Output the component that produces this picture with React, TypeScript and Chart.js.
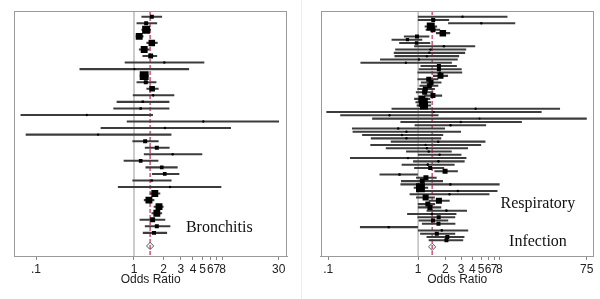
import React, { useEffect, useRef } from "react";
import { Chart, registerables } from "chart.js";
Chart.register(...registerables);

// ---------- Bronchitis panel (odds ratio, 95% CI, weight) ----------
const bronchitisEst = [1.52, 1.33, 1.33, 1.13, 1.52, 1.27, 1.48, 2.04, 1.01, 1.27, 1.32, 1.53, 1.57, 1.23, 1.17, 0.33, 5.1, 2.07, 0.43, 1.3, 1.71, 2.48, 1.17, 1.92, 2.06, 1.52, 2.33, 1.63, 1.42, 1.8, 1.71, 1.55, 1.71, 1.6];
const bronchitisLo = [1.2, 1.07, 1.2, 1.05, 1.35, 1.13, 1.23, 0.81, 0.28, 1.15, 1.07, 1.35, 0.98, 0.67, 0.62, 0.07, 0.85, 0.46, 0.079, 0.97, 1.3, 1.27, 0.79, 1.32, 1.54, 0.97, 0.69, 1.46, 1.27, 1.6, 1.52, 1.15, 1.3, 1.24];
const bronchitisHi = [1.92, 1.71, 1.48, 1.24, 1.73, 1.43, 1.71, 5.18, 3.62, 1.4, 1.68, 1.77, 2.56, 2.28, 2.28, 1.55, 30.0, 9.7, 2.39, 1.77, 2.29, 4.94, 1.76, 2.77, 2.88, 2.4, 7.73, 1.84, 1.6, 1.99, 1.92, 2.07, 2.33, 2.16];
const bronchitisWt = [3, 3, 12, 9, 8, 9, 4.5, 0.7, 0.5, 15, 3, 6, 0.8, 1.2, 1.2, 0.6, 0.6, 0.6, 0.6, 3, 3, 0.8, 2.5, 2.5, 2.5, 0.8, 0.6, 9, 9, 9, 9, 4.5, 3, 3];
const bronchitisPooled = 1.46;

// ---------- Respiratory infection panel ----------
const respEst = [3.11, 1.47, 5.04, 1.38, 1.46, 1.88, 0.97, 0.76, 0.96, 1.93, 1.37, 1.33, 1.25, 1.02, 0.73, 1.7, 1.7, 1.74, 1.77, 1.31, 1.39, 1.33, 1.2, 1.18, 1.46, 1.1, 1.14, 1.16, 4.35, 1.49, 0.48, 4.81, 2.98, 2.29, 0.6, 0.74, 0.66, 0.74, 1.67, 1.21, 1.25, 1.31, 1.73, 0.77, 1.68, 1.28, 1.36, 1.99, 0.62, 1.22, 1.11, 2.28, 1.06, 2.76, 2.23, 1.21, 1.7, 1.28, 1.35, 2.06, 1.42, 1.69, 1.46, 1.68, 0.47, 1.83, 1.61, 2.11, 2.06];
const respLo = [1.0, 1.0, 2.17, 1.19, 1.22, 1.59, 0.7, 0.51, 0.62, 0.91, 0.56, 0.54, 0.55, 0.38, 0.23, 1.07, 1.02, 0.99, 1.47, 0.99, 1.08, 1.04, 0.99, 0.95, 1.18, 0.91, 0.94, 0.97, 0.51, 0.096, 0.137, 0.31, 0.64, 0.92, 0.185, 0.188, 0.24, 0.3, 0.5, 0.296, 0.44, 0.74, 1.0, 0.176, 0.885, 0.66, 0.91, 1.53, 0.375, 0.955, 0.65, 0.64, 0.9, 0.99, 0.81, 0.955, 1.32, 1.0, 1.0, 1.25, 0.76, 0.99, 1.02, 1.11, 0.227, 1.0, 1.06, 1.25, 1.32];
const respHi = [9.75, 2.19, 11.9, 1.61, 1.74, 2.25, 1.32, 1.1, 1.35, 4.27, 3.39, 3.3, 2.83, 2.73, 2.35, 2.67, 3.02, 3.06, 2.13, 1.66, 1.8, 1.66, 1.52, 1.46, 1.83, 1.35, 1.38, 1.38, 37.5, 23.4, 1.67, 74.3, 14.1, 5.65, 1.97, 2.97, 1.88, 1.79, 5.55, 4.97, 3.55, 2.34, 3.0, 3.41, 3.26, 2.52, 1.93, 2.74, 0.985, 1.59, 1.87, 7.98, 1.28, 7.55, 6.15, 1.52, 2.22, 1.53, 1.79, 3.46, 2.64, 2.56, 2.14, 2.57, 0.985, 3.57, 2.56, 3.24, 3.14];
const respWt = [0.7, 3, 0.7, 12, 4.7, 8, 3, 2, 2.3, 0.8, 0.6, 0.7, 0.7, 0.6, 0.7, 3, 3, 0.6, 6.8, 4.7, 4.7, 4.7, 4.7, 4.7, 4.7, 9, 15, 12, 0.6, 0.5, 0.7, 0.5, 0.7, 0.7, 0.7, 0.7, 0.7, 0.7, 0.7, 0.6, 0.7, 0.8, 0.8, 0.6, 0.8, 0.8, 3, 4.7, 1, 4.7, 4.7, 0.7, 15, 0.7, 0.6, 6.8, 6.8, 4.7, 4.7, 0.8, 0.8, 3, 3, 3, 1, 0.8, 3, 3, 3];
const respPooled = 1.43;

// ---------- axes ----------
const bronchitisTicks = [0.1, 1, 2, 3, 4, 5, 6, 7, 8, 30];
const bronchitisTickLabels = [".1", "1", "2", "3", "4", "5", "6", "7", "8", "30"];
const respTicks = [0.1, 1, 2, 3, 4, 5, 6, 7, 8, 75];
const respTickLabels = [".1", "1", "2", "3", "4", "5", "6", "7", "8", "75"];
const axisTitle = "Odds Ratio";

type Note = { text: string; x: number; y: number };

type PanelProps = {
  est: number[];
  lo: number[];
  hi: number[];
  wt: number[];
  pooled: number;
  pooledRow: number;
  xMin: number;
  xMax: number;
  yMin: number;
  yMax: number;
  ticks: number[];
  tickLabels: string[];
  notes: Note[];
  padLeft: number;
  padRight: number;
};

function ForestPanel(p: PanelProps) {
  const ref = useRef<HTMLCanvasElement>(null);
  useEffect(() => {
    const rows = p.est.map((_, i) => i + 1);
    const ciData = rows.map((r, i) => ({ x: [p.lo[i], p.hi[i]], y: r }));
    const ptData = rows.map((r, i) => ({ x: p.est[i], y: r }));
    const side = (w: number) => 2.3 * Math.sqrt(w);

    const framePlugin = {
      id: "frame",
      afterDraw(chart: any) {
        const { ctx, chartArea } = chart;
        const { left, top, right, bottom } = chartArea;
        ctx.save();
        ctx.strokeStyle = "#9a9a9a";
        ctx.lineWidth = 1;
        ctx.strokeRect(Math.round(left) + 0.5, Math.round(top) + 0.5, Math.round(right - left) - 1, Math.round(bottom - top));
        ctx.fillStyle = "#111";
        ctx.font = '16px "Liberation Serif", "Times New Roman", serif';
        ctx.textAlign = "left";
        ctx.textBaseline = "middle";
        const xs = chart.scales.x;
        const ys = chart.scales.y;
        p.notes.forEach((n) => {
          ctx.fillText(n.text, xs.getPixelForValue(n.x), ys.getPixelForValue(n.y));
        });
        ctx.restore();
      },
    };

    const chart = new Chart(ref.current as HTMLCanvasElement, {
      type: "bar",
      data: {
        datasets: [
          {
            type: "line",
            data: [{ x: 1, y: p.yMin }, { x: 1, y: p.yMax }],
            borderColor: "#c4c4c4",
            borderWidth: 1,
            pointRadius: 0,
            order: 6,
          } as any,
          {
            type: "line",
            data: [{ x: p.pooled, y: p.yMin }, { x: p.pooled, y: p.yMax }],
            borderColor: "#c2386a",
            borderWidth: 1.3,
            borderDash: [4, 2],
            pointRadius: 0,
            order: 5,
          } as any,
          {
            type: "bar",
            indexAxis: "y",
            data: ciData,
            backgroundColor: "#3c3c3c",
            barThickness: 1.4,
            borderWidth: 0,
            order: 4,
          } as any,
          {
            type: "scatter",
            data: ptData,
            pointStyle: (ctx: any) => (p.wt[ctx.dataIndex] < 1 ? "circle" : "rect"),
            pointRadius: (ctx: any) => {
              const w = p.wt[ctx.dataIndex];
              return w < 1 ? side(w) / 2 + 0.3 : side(w) / Math.SQRT2;
            },
            backgroundColor: "#000",
            borderWidth: 0,
            order: 3,
          } as any,
          {
            type: "scatter",
            data: [{ x: p.pooled, y: p.pooledRow }],
            pointStyle: "rectRot",
            pointRadius: 3.6,
            backgroundColor: "rgba(255,255,255,0)",
            borderColor: "#555",
            borderWidth: 1,
            order: 1,
          } as any,
        ],
      },
      options: {
        responsive: false,
        animation: false,
        devicePixelRatio: 1,
        layout: { padding: { left: p.padLeft, right: p.padRight, top: 11, bottom: 0 } },
        plugins: { legend: { display: false }, tooltip: { enabled: false } },
        scales: {
          x: {
            type: "logarithmic",
            position: "bottom",
            offset: false,
            min: p.xMin,
            max: p.xMax,
            afterBuildTicks: (axis: any) => {
              axis.ticks = p.ticks.map((v) => ({ value: v }));
            },
            afterFit: (axis: any) => {
              axis.height = 43;
            },
            ticks: {
              autoSkip: false,
              maxRotation: 0,
              minRotation: 0,
              padding: 2,
              color: "#222",
              font: { family: '"Liberation Sans", Arial, sans-serif', size: 12 },
              callback: (_v: any, i: number) => p.tickLabels[i],
            },
            grid: { display: true, offset: false, drawOnChartArea: false, drawTicks: true, tickLength: 4, color: "#888" },
            border: { display: true, color: "#9a9a9a" },
            title: {
              display: true,
              text: axisTitle,
              color: "#222",
              font: { family: '"Liberation Sans", Arial, sans-serif', size: 12 },
              padding: { top: 0, bottom: 12 },
            },
          } as any,
          y: {
            type: "linear",
            offset: false,
            grid: { offset: false },
            min: p.yMin,
            max: p.yMax,
            reverse: true,
            display: false,
          } as any,
        },
      } as any,
      plugins: [framePlugin],
    });
    return () => chart.destroy();
  }, []);
  return <canvas ref={ref} width={300} height={299} style={{ display: "block", width: 300, height: 299 }} />;
}

export default function App() {
  return (
    <div style={{ position: "absolute", left: 0, top: 0, width: 600, height: 299, background: "#fff" }}>
      <div style={{ position: "absolute", left: 0, top: 0, width: 300, height: 299 }}>
        <ForestPanel
          est={bronchitisEst}
          lo={bronchitisLo}
          hi={bronchitisHi}
          wt={bronchitisWt}
          pooled={bronchitisPooled}
          pooledRow={36}
          xMin={0.0596}
          xMax={36.7}
          yMin={0.13}
          yMax={37.53}
          ticks={bronchitisTicks}
          tickLabels={bronchitisTickLabels}
          notes={[{ text: "Bronchitis", x: 3.39, y: 33.26 }]}
          padLeft={14}
          padRight={12.7}
        />
      </div>
      <div style={{ position: "absolute", left: 301, top: 0, width: 1, height: 299, background: "#ececec" }} />
      <div style={{ position: "absolute", left: 300, top: 0, width: 300, height: 299 }}>
        <ForestPanel
          est={respEst}
          lo={respLo}
          hi={respHi}
          wt={respWt}
          pooled={respPooled}
          pooledRow={71}
          xMin={0.0824}
          xMax={89.5}
          yMin={-0.73}
          yMax={73.78}
          ticks={respTicks}
          tickLabels={respTickLabels}
          notes={[
            { text: "Respiratory", x: 8.23, y: 57.96 },
            { text: "Infection", x: 10.26, y: 69.4 },
          ]}
          padLeft={20.7}
          padRight={6}
        />
      </div>
    </div>
  );
}
